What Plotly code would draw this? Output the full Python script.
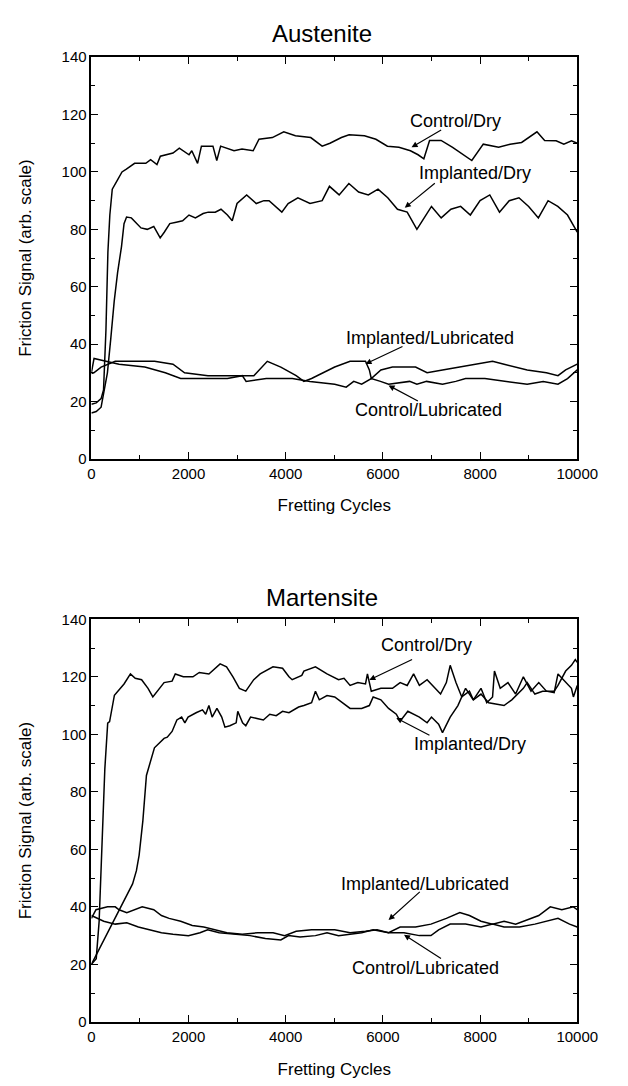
import plotly.graph_objects as go

# ---------------- Data ----------------
# Austenite
aus_cd_x = [0, 100, 200, 250, 300, 340, 380, 430, 530, 630, 720, 890, 1120, 1220, 1350, 1420, 1680, 1810, 2010, 2067, 2186, 2265, 2502, 2581, 2660, 2936, 3100, 3330, 3450, 3725, 3960, 4200, 4515, 4750, 4910, 5146, 5304, 5620, 5856, 6093, 6330, 6567, 6724, 6843, 6961, 7198, 7435, 7672, 7830, 8066, 8382, 8619, 8855, 9171, 9329, 9566, 9724, 9882, 10000]
aus_cd_y = [19, 19.5, 21, 24, 45, 72, 85, 94, 97, 100, 101, 103, 103, 104.3, 102.6, 105.5, 106.6, 108.3, 106, 107.4, 103, 109, 109, 104, 109, 107.4, 108, 107.4, 111.4, 112, 114, 112.6, 112, 109, 110, 112, 113, 112.6, 111.4, 109, 108.6, 107.4, 106, 104.6, 111, 111, 108.6, 106, 104, 109.7, 108.6, 109.7, 110.3, 114, 111, 110.9, 109.7, 110.9, 110]

aus_id_x = [0, 100, 200, 270, 330, 400, 470, 540, 620, 672, 724, 823, 1021, 1150, 1284, 1350, 1416, 1500, 1614, 1746, 1878, 2009, 2141, 2300, 2405, 2550, 2668, 2800, 2899, 2998, 3196, 3393, 3550, 3657, 3800, 3920, 4050, 4250, 4500, 4750, 4900, 5100, 5300, 5500, 5700, 5900, 6100, 6300, 6500, 6700, 6850, 7000, 7200, 7400, 7600, 7800, 8000, 8200, 8400, 8600, 8800, 9000, 9200, 9400, 9600, 9800, 10000]
aus_id_y = [16, 16.5, 18, 24, 30, 42, 55, 65, 74, 82, 84.3, 84, 80.5, 80, 81, 79, 77, 79, 82, 82.5, 83, 85, 84, 85.5, 86, 86, 87, 85, 83, 89, 92, 89, 90, 90, 88, 86, 89, 91, 89, 90, 95, 92, 96, 93, 92, 94, 91, 87, 86, 80, 84, 88, 84, 87, 88, 85, 90, 92, 86, 90, 91, 88, 84, 90, 88, 85, 79]

aus_il_x = [0, 50, 200, 491, 900, 1300, 1680, 1918, 2400, 2900, 3344, 3621, 3899, 4215, 4374, 4532, 4770, 5008, 5325, 5642, 5721, 5761, 5959, 6197, 6672, 6910, 7227, 7544, 7861, 8257, 8494, 8970, 9366, 9604, 9762, 10000]
aus_il_y = [29.7, 30, 32, 34, 34, 34, 33, 30, 29, 29, 29, 34, 32, 29, 27, 28, 30, 32, 34, 34, 31, 28, 31, 32, 32, 30, 31, 32, 33, 34, 33, 31, 30, 29, 31, 33]

aus_cl_x = [0, 55, 300, 570, 1100, 1521, 1838, 2300, 2800, 3106, 3185, 3600, 4136, 4500, 5008, 5245, 5400, 5563, 5761, 5950, 6117, 6550, 6700, 6900, 7227, 7500, 7702, 8100, 8500, 8970, 9300, 9604, 9800, 10000]
aus_cl_y = [30, 35, 34, 33, 32, 30, 28, 28, 28, 29, 27, 28, 28, 27, 26, 25, 27, 26, 28, 27, 26, 27, 26, 27, 26, 27, 28, 28, 27, 26, 27, 26, 28, 31]

# Martensite
mar_cd_x = [0, 100, 160, 214, 250, 277, 336, 375, 474, 606, 672, 804, 903, 1034, 1166, 1265, 1364, 1496, 1661, 1727, 1892, 2090, 2221, 2419, 2650, 2782, 2914, 3046, 3178, 3342, 3474, 3573, 3738, 3935, 4067, 4133, 4331, 4374, 4612, 4850, 5087, 5200, 5325, 5483, 5642, 5682, 5761, 5959, 6197, 6355, 6500, 6632, 6751, 6910, 7068, 7187, 7306, 7385, 7504, 7623, 7781, 7861, 8019, 8138, 8257, 8296, 8415, 8574, 8732, 8891, 9049, 9208, 9366, 9525, 9604, 9762, 9881, 9921, 10000]
mar_cd_y = [20, 22, 35, 58, 75, 88, 103.9, 104.4, 113.6, 116, 117.5, 121, 119.5, 119, 116, 113, 115, 118, 118.5, 121, 120, 120, 121.5, 121, 124.5, 123.5, 120, 116, 115, 119, 121, 122, 123.5, 123, 120, 119, 120.5, 122, 123.5, 121, 119, 119.5, 117, 118, 117.5, 121, 115, 116, 116, 118, 117, 121, 117, 119, 116, 114, 118, 124, 118, 113, 115, 112, 116, 111, 113, 122, 116, 118, 114, 120, 115, 118, 115, 114.5, 121, 118, 116, 113, 117]

mar_id_x = [0, 300, 610, 848, 927, 983, 1060, 1133, 1298, 1397, 1496, 1562, 1661, 1760, 1858, 1924, 1990, 2155, 2287, 2353, 2419, 2485, 2584, 2683, 2749, 2850, 2980, 3013, 3112, 3178, 3276, 3408, 3540, 3672, 3804, 3935, 4067, 4265, 4374, 4532, 4612, 4691, 4850, 5008, 5166, 5325, 5563, 5721, 5800, 5959, 6117, 6276, 6355, 6513, 6751, 6910, 7000, 7147, 7227, 7385, 7544, 7623, 7702, 7861, 8019, 8177, 8494, 8653, 8891, 8970, 9128, 9287, 9525, 9604, 9762, 9881, 9960, 10000]
mar_id_y = [20, 30, 40, 48, 52.6, 58, 70, 85.7, 95.3, 97, 98.6, 99, 101, 105, 106, 104, 106, 107.5, 108.5, 107, 110, 106, 109, 106, 102.5, 103, 104, 108, 104, 103, 106, 105.5, 105, 107, 106.5, 108, 107.5, 109.5, 110, 111, 115, 112, 113.5, 113, 111, 109, 109, 110, 113, 112, 109, 107, 104.6, 108, 106, 104, 106, 103.5, 100.6, 106, 110, 113, 116, 112, 114, 111, 110, 112, 116, 118, 114, 115, 115, 117, 122, 124, 126, 125]

mar_il_x = [0, 95, 333, 491, 570, 729, 1046, 1284, 1442, 1600, 1838, 2076, 2314, 2551, 2789, 3106, 3423, 3740, 3978, 4215, 4532, 5008, 5325, 5642, 5880, 6117, 6355, 6672, 6989, 7306, 7583, 7781, 8019, 8257, 8494, 8732, 8970, 9208, 9445, 9683, 9921, 10000]
mar_il_y = [36, 39, 40, 40, 39, 38, 40, 39, 37, 36, 35, 33.5, 33, 32, 31, 30.5, 31, 31, 30, 31.5, 32, 32, 31, 31.5, 32, 31, 33, 33, 34, 36, 38, 37, 35, 34, 35, 34, 35.5, 37, 40, 39, 40, 39]

mar_cl_x = [0, 254, 491, 729, 967, 1204, 1442, 1680, 1997, 2235, 2393, 2631, 2948, 3265, 3582, 3899, 4057, 4295, 4612, 4850, 5087, 5325, 5563, 5800, 6117, 6434, 6751, 6989, 7147, 7385, 7702, 8019, 8257, 8494, 8811, 9128, 9366, 9604, 9842, 10000]
mar_cl_y = [37, 35, 34, 34.5, 33, 32, 31, 30.5, 30, 31, 32, 31, 30.5, 30, 29, 28.5, 30, 29.5, 30, 31, 30, 30.5, 31, 32, 31, 31, 30, 30, 32, 34, 34, 33, 34, 33, 33, 34, 35, 36, 34, 33]

panel_titles = ["Austenite", "Martensite"]
x_title = "Fretting Cycles"
y_title = "Friction Signal (arb. scale)"

# annotations: (text, text_x, text_y, tail_x, tail_y, head_x, head_y)
aus_labels = [
    ("Control/Dry", 7490, 117.7, 7230, 114.9, 6590, 108.6),
    ("Implanted/Dry", 7900, 99.5, 7100, 96.5, 6450, 87.5),
    ("Implanted/Lubricated", 6965, 42.3, 6434, 39.4, 5642, 33.1),
    ("Control/Lubricated", 6941, 17.2, 6751, 19.9, 6117, 25.6),
]
mar_labels = [
    ("Control/Dry", 6890, 130.9, 6632, 126.3, 5721, 118.9),
    ("Implanted/Dry", 7800, 96.5, 6989, 99.4, 6276, 105.7),
    ("Implanted/Lubricated", 6870, 48.0, 6790, 45.7, 6117, 35.4),
    ("Control/Lubricated", 6870, 18.9, 7227, 21.7, 6434, 30.3),
]

# ---------------- Figure ----------------
W, H = 628, 1086
FONT = "Liberation Sans, Arial, Helvetica, sans-serif"

def px_x(p):
    return p / W

def px_y(p):
    return 1 - p / H

x_dom = [px_x(91), px_x(597)]
top_dom = [px_y(457), px_y(49)]
bot_dom = [px_y(1029), px_y(620)]

fig = go.Figure()
line = dict(color="black", width=1.5)
for xs, ys in [(aus_cd_x, aus_cd_y), (aus_id_x, aus_id_y), (aus_il_x, aus_il_y), (aus_cl_x, aus_cl_y)]:
    fig.add_trace(go.Scatter(x=xs, y=ys, mode="lines", line=line, xaxis="x", yaxis="y", showlegend=False))
for xs, ys in [(mar_cd_x, mar_cd_y), (mar_id_x, mar_id_y), (mar_il_x, mar_il_y), (mar_cl_x, mar_cl_y)]:
    fig.add_trace(go.Scatter(x=xs, y=ys, mode="lines", line=line, xaxis="x2", yaxis="y2", showlegend=False))

def xaxis(dom_anchor):
    return dict(domain=x_dom, anchor=dom_anchor, range=[0, 10000], dtick=2000, tick0=0,
                tickformat="d",
                showline=True, linecolor="black", linewidth=1.5, mirror="ticks",
                ticks="inside", ticklen=7, tickwidth=1.3, tickcolor="black",
                minor=dict(ticks="inside", dtick=1000, ticklen=4, tickwidth=1.3, tickcolor="black"),
                showgrid=False, zeroline=False,
                tickfont=dict(family=FONT, size=15, color="black"),
                title=dict(text=x_title, font=dict(family=FONT, size=17, color="black"), standoff=19))

def yaxis(dom, anchor):
    return dict(domain=dom, anchor=anchor, range=[0, 140], dtick=20, tick0=0,
                tickformat="d",
                showline=True, linecolor="black", linewidth=1.5, mirror="ticks",
                ticks="inside", ticklen=7, tickwidth=1.3, tickcolor="black",
                minor=dict(ticks="inside", dtick=10, ticklen=4, tickwidth=1.3, tickcolor="black"),
                showgrid=False, zeroline=False,
                tickfont=dict(family=FONT, size=15, color="black"),
                title=dict(text=y_title, font=dict(family=FONT, size=17, color="black"), standoff=26))

fig.update_layout(
    width=W, height=H,
    margin=dict(l=0, r=0, t=0, b=0),
    paper_bgcolor="white", plot_bgcolor="white",
    xaxis=xaxis("y"), yaxis=yaxis(top_dom, "x"),
    xaxis2=xaxis("y2"), yaxis2=yaxis(bot_dom, "x2"),
    showlegend=False,
)

anns = []
for title, ty in zip(panel_titles, [25, 598]):
    anns.append(dict(text=title, x=px_x(331), y=px_y(ty), xref="paper", yref="paper",
                     xanchor="center", yanchor="middle", showarrow=False,
                     font=dict(family=FONT, size=24, color="black")))

for labels, xr, yr in [(aus_labels, "x", "y"), (mar_labels, "x2", "y2")]:
    for text, tx, ty, ax, ay, hx, hy in labels:
        anns.append(dict(text=text, x=tx, y=ty, xref=xr, yref=yr, showarrow=False,
                         xanchor="center", yanchor="middle",
                         font=dict(family=FONT, size=18, color="black")))
        anns.append(dict(text="", x=hx, y=hy, ax=ax, ay=ay, xref=xr, yref=yr,
                         axref=xr, ayref=yr, showarrow=True, arrowhead=2,
                         arrowsize=1, arrowwidth=1.2, arrowcolor="black"))

fig.update_layout(annotations=anns)
fig.write_html("out.html")
